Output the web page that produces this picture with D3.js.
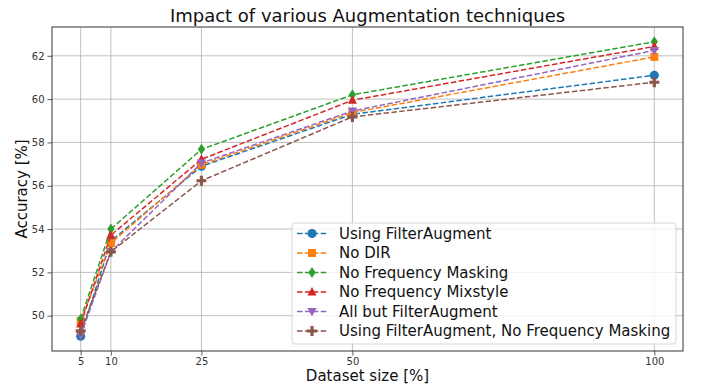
<!DOCTYPE html>
<html>
<head>
<meta charset="utf-8">
<script src="https://cdn.jsdelivr.net/npm/d3@7"></script>
<style>
  body { margin: 0; background: #fff; }
  svg { font-family: "DejaVu Sans", sans-serif; }
</style>
</head>
<body>
<svg id="chart" width="702" height="385"></svg>
<script>
const sizes = [5, 10, 25, 50, 100];
const seriesNames = [
  'Using FilterAugment',
  'No DIR',
  'No Frequency Masking',
  'No Frequency Mixstyle',
  'All but FilterAugment',
  'Using FilterAugment, No Frequency Masking',
];
const usingFA = [49.05, 53.45, 56.9, 59.3, 61.1];
const noDIR = [49.75, 53.35, 56.97, 59.38, 61.95];
const noFreqMasking = [49.85, 54.0, 57.68, 60.2, 62.65];
const noFreqMixstyle = [49.62, 53.72, 57.22, 59.95, 62.43];
const allButFA = [49.1, 52.95, 57.05, 59.45, 62.25];
const faNoFM = [49.3, 52.95, 56.23, 59.18, 60.78];
const yTicks = [50, 52, 54, 56, 58, 60, 62];

const colours = ['#1f77b4', '#ff7f0e', '#2ca02c', '#d62728', '#9467bd', '#8c564b'];
const markers = ['circle', 'square', 'diamond', 'up', 'down', 'plus'];
const allValues = [usingFA, noDIR, noFreqMasking, noFreqMixstyle, allButFA, faNoFM];

const series = seriesNames.map((name, i) => ({
  name,
  colour: colours[i],
  marker: markers[i],
  points: sizes.map((s, j) => ({ x: s, y: allValues[i][j] })),
}));

const m = { left: 52, right: 683, top: 27, bottom: 351 };
const svg = d3.select('#chart');

/* matplotlib style 5% margins */
const yMin = d3.min(allValues.flat()), yMax = d3.max(allValues.flat());
const yPad = (yMax - yMin) * 0.05;
const x = d3.scaleLinear().domain([5 - 4.75, 100 + 4.75]).range([m.left, m.right]);
const y = d3.scaleLinear().domain([yMin - yPad, yMax + yPad]).range([m.bottom, m.top]);

/* grid */
const grid = svg.append('g').attr('stroke', '#b0b0b0').attr('stroke-width', 0.8);
grid.selectAll('.vx').data(sizes).enter().append('line')
  .attr('x1', (d) => x(d)).attr('x2', (d) => x(d))
  .attr('y1', m.top).attr('y2', m.bottom);
grid.selectAll('.hy').data(yTicks).enter().append('line')
  .attr('x1', m.left).attr('x2', m.right)
  .attr('y1', (d) => y(d)).attr('y2', (d) => y(d));

/* marker paths centred on 0,0 */
function markerPath(type) {
  switch (type) {
    case 'circle': return d3.symbol(d3.symbolCircle, 64)();
    case 'square': return 'M-4,-4H4V4H-4Z';
    case 'diamond': return 'M0,-5.5L3.6,0L0,5.5L-3.6,0Z';
    case 'up': return 'M0,-5L4.6,3.5H-4.6Z';
    case 'down': return 'M0,5L4.6,-3.5H-4.6Z';
    case 'plus': return 'M-1.6,-5H1.6V-1.6H5V1.6H1.6V5H-1.6V1.6H-5V-1.6H-1.6Z';
  }
}

/* lines and markers */
const line = d3.line().x((d) => x(d.x)).y((d) => y(d.y));
const plot = svg.append('g');
series.forEach((s) => {
  plot.append('path')
    .attr('d', line(s.points))
    .attr('fill', 'none')
    .attr('stroke', s.colour)
    .attr('stroke-width', 1.5)
    .attr('stroke-dasharray', '5.5,2.4');
  plot.selectAll(null).data(s.points).enter().append('path')
    .attr('d', markerPath(s.marker))
    .attr('transform', (d) => `translate(${x(d.x)},${y(d.y)})`)
    .attr('fill', s.colour);
});

/* axes */
const xAxis = svg.append('g').attr('transform', `translate(0,${m.bottom})`)
  .call(d3.axisBottom(x).tickValues(sizes).tickSize(4.5).tickPadding(2.5));
const yAxis = svg.append('g').attr('transform', `translate(${m.left},0)`)
  .call(d3.axisLeft(y).tickValues(yTicks).tickSize(4.5).tickPadding(3));
[xAxis, yAxis].forEach((a) => {
  a.select('.domain').remove();
  a.selectAll('line').attr('stroke', '#333').attr('stroke-width', 0.8);
  a.selectAll('text').attr('font-size', 10).attr('fill', '#333')
    .attr('font-family', '"DejaVu Sans", sans-serif');
});

/* frame */
svg.append('rect')
  .attr('x', m.left).attr('y', m.top)
  .attr('width', m.right - m.left).attr('height', m.bottom - m.top)
  .attr('fill', 'none').attr('stroke', '#333').attr('stroke-width', 1);

/* titles */
svg.append('text').attr('x', (m.left + m.right) / 2).attr('y', 22)
  .attr('text-anchor', 'middle').attr('font-size', 18).attr('fill', '#111')
  .text('Impact of various Augmentation techniques');
svg.append('text').attr('x', (m.left + m.right) / 2).attr('y', 380.5)
  .attr('text-anchor', 'middle').attr('font-size', 15).attr('fill', '#111')
  .text('Dataset size [%]');
svg.append('text').attr('transform', `translate(27,${(m.top + m.bottom) / 2}) rotate(-90)`)
  .attr('text-anchor', 'middle').attr('font-size', 15).attr('fill', '#111')
  .text('Accuracy [%]');

/* legend */
const lg = svg.append('g').attr('transform', 'translate(292,223)');
lg.append('rect')
  .attr('width', 384).attr('height', 121).attr('rx', 3)
  .attr('fill', 'rgba(255,255,255,0.8)').attr('stroke', '#d6d6d6').attr('stroke-width', 1);
const items = lg.selectAll('.item').data(series).enter().append('g')
  .attr('transform', (d, i) => `translate(0,${10.5 + i * 19.5})`);
items.append('line')
  .attr('x1', 5).attr('x2', 35)
  .attr('stroke', (d) => d.colour).attr('stroke-width', 1.5)
  .attr('stroke-dasharray', '5.5,2.4');
items.append('path')
  .attr('d', (d) => markerPath(d.marker))
  .attr('transform', 'translate(20,0)')
  .attr('fill', (d) => d.colour);
items.append('text')
  .attr('x', 47).attr('dy', '0.35em')
  .attr('font-size', 15).attr('fill', '#111')
  .text((d) => d.name);
</script>
</body>
</html>
